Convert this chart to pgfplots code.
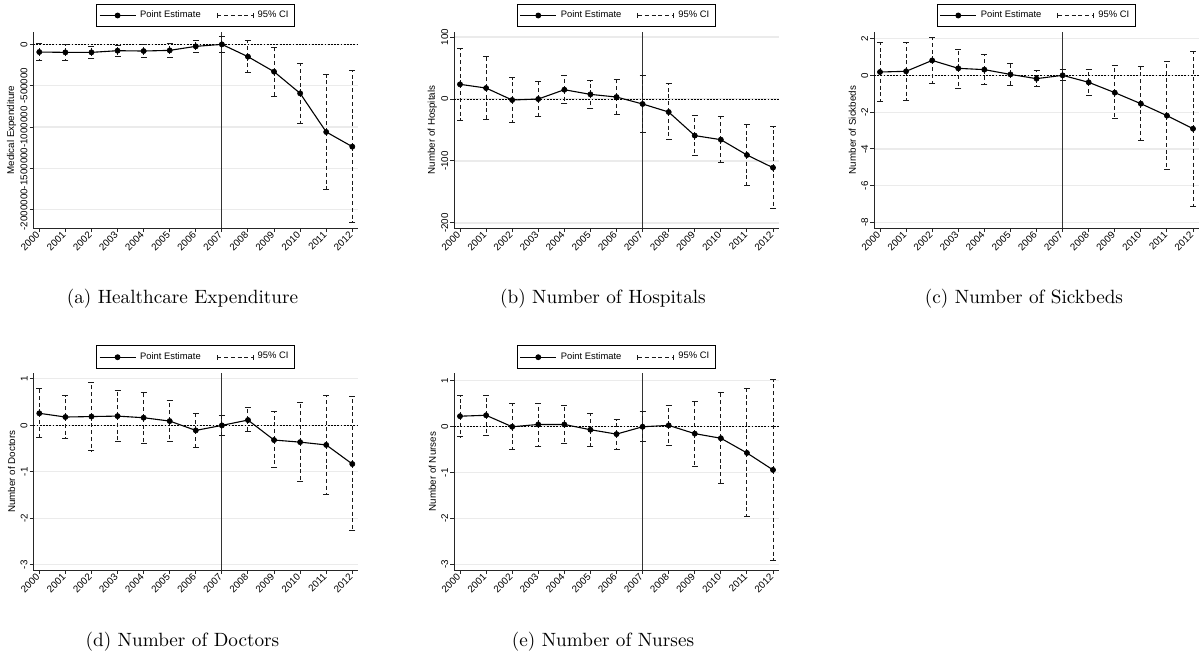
\documentclass[border=0pt]{standalone}
\usepackage{fontspec}
\usepackage{pgfplots}
\usepackage{pgfplotstable}
\pgfplotsset{compat=1.18}
\newfontfamily\statafont{Liberation Sans}
\newcommand\tickfont{\statafont\fontsize{4.9}{5.3}\selectfont}
\newcommand\legfont{\statafont\fontsize{4.7}{5.5}\selectfont}
\newcommand\capfont{\fontsize{9.6}{11}\selectfont}

\pgfplotstableread{
year est lo hi
2000 -92700 -193500 16000
2001 -96800 -193500 2000
2002 -96800 -173000 -20000
2003 -76600 -145000 -8000
2004 -80600 -157000 0
2005 -72600 -153000 12000
2006 -24000 -100000 48000
2007 0 -100000 93000
2008 -149000 -339000 44000
2009 -330600 -625000 -36000
2010 -592700 -960000 -230000
2011 -1060000 -1758000 -363000
2012 -1238000 -2157000 -318500
}\tabA
\pgfplotstableread{
year est lo hi
2000 23.7 -33.9 81.2
2001 17.7 -32.8 68.3
2002 -1.6 -38.2 34.4
2003 0 -28 29
2004 15 -8 38.2
2005 7.5 -14.5 29.6
2006 3.2 -24.7 31.7
2007 -8 -53.8 38.2
2008 -21 -66 24.7
2009 -59 -91.4 -27
2010 -65.6 -102.7 -28.5
2011 -90.3 -140.3 -40.9
2012 -110.8 -176.3 -44.6
}\tabB
\pgfplotstableread{
year est lo hi
2000 0.18 -1.41 1.77
2001 0.22 -1.38 1.77
2002 0.81 -0.42 2.06
2003 0.38 -0.69 1.43
2004 0.31 -0.51 1.12
2005 0.05 -0.54 0.65
2006 -0.18 -0.58 0.25
2007 0 -0.29 0.29
2008 -0.38 -1.10 0.33
2009 -0.94 -2.37 0.51
2010 -1.54 -3.55 0.47
2011 -2.19 -5.14 0.76
2012 -2.90 -7.13 1.30
}\tabC
\pgfplotstableread{
year est lo hi
2000 0.26 -0.27 0.80
2001 0.18 -0.29 0.65
2002 0.19 -0.55 0.93
2003 0.20 -0.34 0.75
2004 0.165 -0.38 0.71
2005 0.093 -0.34 0.53
2006 -0.108 -0.47 0.25
2007 0 -0.22 0.22
2008 0.115 -0.14 0.38
2009 -0.315 -0.90 0.29
2010 -0.36 -1.20 0.49
2011 -0.42 -1.48 0.64
2012 -0.83 -2.27 0.62
}\tabD
\pgfplotstableread{
year est lo hi
2000 0.23 -0.22 0.675
2001 0.25 -0.18 0.675
2002 0 -0.49 0.50
2003 0.05 -0.42 0.515
2004 0.05 -0.36 0.46
2005 -0.065 -0.42 0.29
2006 -0.16 -0.49 0.16
2007 0 -0.33 0.34
2008 0.03 -0.41 0.46
2009 -0.15 -0.86 0.55
2010 -0.25 -1.24 0.75
2011 -0.57 -1.96 0.83
2012 -0.94 -2.92 1.04
}\tabE

\pgfplotsset{
  es/.style={
    scale only axis, width=162.5pt, height=98.3pt,
    anchor=south west,
    xmin=1999.77, xmax=2012.23,
    axis lines=left,
    axis line style={-, line width=0.5pt, black!85},
    tick align=outside, major tick length=1.9pt,
    tick style={line width=0.5pt, black!85},
    scaled y ticks=false,
    xtick={2000,2001,2002,2003,2004,2005,2006,2007,2008,2009,2010,2011,2012},
    xticklabels={2000,2001,2002,2003,2004,2005,2006,2007,2008,2009,2010,2011,2012},
    x tick label style={rotate=45, anchor=east, font=\tickfont, inner sep=0.8pt},
    y tick label style={rotate=90, anchor=south, font=\tickfont, inner sep=0.8pt},
    ymajorgrids, grid style={line width=0.6pt, black!8},
    every axis y label/.style={at={(axis description cs:0,0.5)}, xshift=-10.8pt, rotate=90, anchor=center, font=\tickfont},
    legend columns=2,
    legend cell align=left,
    legend style={at={(0.5,1)}, yshift=2.2pt, anchor=south, draw=black, line width=0.5pt,
      font=\legfont, inner sep=1.2pt, row sep=0pt,
      /tikz/every even column/.append style={column sep=6pt}},
  },
  pe/.style={black, line width=0.55pt, mark=*, mark size=1.3pt, mark options={line width=0.3pt}, forget plot},
  ci/.style={black!90, line width=0.5pt, only marks, mark=*, mark size=0pt, mark options={line width=0pt}, forget plot,
    error bars/.cd, y dir=both, y explicit,
    error bar style={dash pattern=on 2pt off 1.4pt, line width=0.5pt, black!90},
    error mark options={rotate=90, mark size=1.5pt, solid, line width=0.5pt, black!90}},
  zl/.style={black, line width=0.5pt, dash pattern=on 0.9pt off 0.7pt, forget plot},
  vl/.style={black!80, line width=0.55pt, forget plot},
}
\newcommand\legentries{%
  \addlegendimage{legend image code/.code={\draw[black, line width=0.55pt] (0pt,0pt) -- (18pt,0pt); \fill[black] (9pt,0pt) circle (1.2pt);}}
  \addlegendentry{Point Estimate}
  \addlegendimage{legend image code/.code={\draw[black!90, line width=0.5pt, dash pattern=on 2pt off 1.4pt] (0pt,0pt) -- (18pt,0pt); \draw[black!90, line width=0.5pt] (0pt,-1.3pt) -- (0pt,1.3pt); \draw[black!90, line width=0.5pt] (18pt,-1.3pt) -- (18pt,1.3pt);}}
  \addlegendentry{95\% CI}
}
\newcommand\panel[4]{% table, ymin, ymax
  \addplot[zl] coordinates {(1999.77,0) (2012.23,0)};
  \addplot[vl] coordinates {(2007,#2) (2007,#3)};
  \addplot[ci] table[x=year, y=est, y error plus expr=\thisrow{hi}-\thisrow{est}, y error minus expr=\thisrow{est}-\thisrow{lo}] {#1};
  \addplot[pe] table[x=year, y=est] {#1};
}

\begin{document}
\begin{tikzpicture}
\path[use as bounding box] (0pt,0pt) rectangle (602pt,-327pt);

\begin{axis}[es, at={(16.65pt,-114.15pt)},
  ymin=-2225800, ymax=153200,
  ytick={-2000000,-1500000,-1000000,-500000,0},
  yticklabels={-2000000,-1500000,-1000000,-500000,0},
  ylabel={Medical Expenditure}]
\legentries
\panel{\tabA}{-2225800}{153200}{}
\end{axis}

\begin{axis}[es, at={(227pt,-114.15pt)},
  ymin=-208.6, ymax=108.6,
  ytick={-200,-100,0,100},
  yticklabels={-200,-100,0,100},
  ylabel={Number of Hospitals}]
\legentries
\panel{\tabB}{-208.6}{108.6}{}
\end{axis}

\begin{axis}[es, at={(437pt,-114.15pt)},
  ymin=-8.31, ymax=2.37,
  ytick={-8,-6,-4,-2,0,2},
  yticklabels={-8,-6,-4,-2,0,2},
  ylabel={Number of Sickbeds}]
\legentries
\panel{\tabC}{-8.31}{2.37}{}
\end{axis}

\begin{axis}[es, at={(16.65pt,-285pt)},
  ymin=-3.11, ymax=1.118,
  ytick={-3,-2,-1,0,1},
  yticklabels={-3,-2,-1,0,1},
  ylabel={Number of Doctors}]
\legentries
\panel{\tabD}{-3.11}{1.118}{}
\end{axis}

\begin{axis}[es, at={(227pt,-285pt)},
  ymin=-3.12, ymax=1.162,
  ytick={-3,-2,-1,0,1},
  yticklabels={-3,-2,-1,0,1},
  ylabel={Number of Nurses}]
\legentries
\panel{\tabE}{-3.12}{1.162}{}
\end{axis}

\node[font=\capfont] at (91.25pt,-149.25pt) {(a) Healthcare Expenditure};
\node[font=\capfont] at (301.5pt,-149.25pt) {(b) Number of Hospitals};
\node[font=\capfont] at (512pt,-149.25pt) {(c) Number of Sickbeds};
\node[font=\capfont] at (91.25pt,-320.65pt) {(d) Number of Doctors};
\node[font=\capfont] at (301.5pt,-320.65pt) {(e) Number of Nurses};
\end{tikzpicture}
\end{document}
